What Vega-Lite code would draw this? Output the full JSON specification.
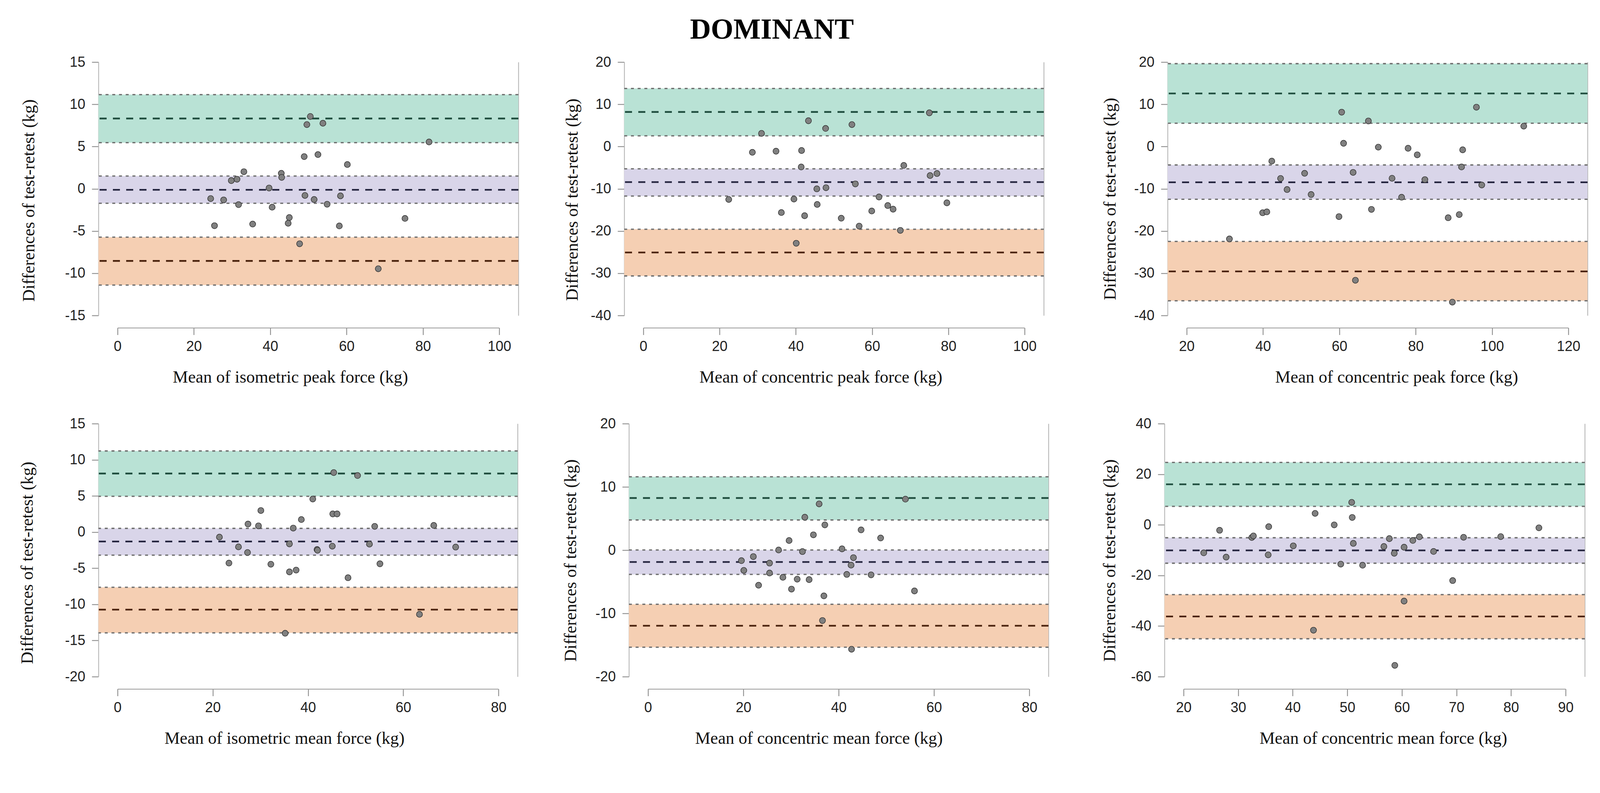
{
  "$schema": "https://vega.github.io/schema/vega-lite/v6.json",
  "padding": {"left": 48, "top": 40, "right": 0, "bottom": 0},
  "background": "white",
  "title": {"text": "DOMINANT", "font": "Liberation Serif", "fontSize": 74, "fontWeight": "bold", "color": "#000000", "anchor": "middle", "dx": -81, "offset": 26},
  "datasets": {
    "bands": [
      {"p": 1, "band": "upper", "lo": 5.46, "mid": 8.32, "hi": 11.15},
      {"p": 1, "band": "bias", "lo": -1.72, "mid": -0.12, "hi": 1.51},
      {"p": 1, "band": "lower", "lo": -11.4, "mid": -8.54, "hi": -5.73},
      {"p": 2, "band": "upper", "lo": 2.53, "mid": 8.19, "hi": 13.75},
      {"p": 2, "band": "bias", "lo": -11.73, "mid": -8.42, "hi": -5.27},
      {"p": 2, "band": "lower", "lo": -30.64, "mid": -25.09, "hi": -19.58},
      {"p": 3, "band": "upper", "lo": 5.52, "mid": 12.57, "hi": 19.63},
      {"p": 3, "band": "bias", "lo": -12.48, "mid": -8.47, "hi": -4.36},
      {"p": 3, "band": "lower", "lo": -36.52, "mid": -29.57, "hi": -22.47},
      {"p": 4, "band": "upper", "lo": 4.95, "mid": 8.1, "hi": 11.22},
      {"p": 4, "band": "bias", "lo": -3.2, "mid": -1.3, "hi": 0.51},
      {"p": 4, "band": "lower", "lo": -13.94, "mid": -10.73, "hi": -7.64},
      {"p": 5, "band": "upper", "lo": 4.77, "mid": 8.24, "hi": 11.6},
      {"p": 5, "band": "bias", "lo": -3.84, "mid": -1.87, "hi": 0.02},
      {"p": 5, "band": "lower", "lo": -15.35, "mid": -11.95, "hi": -8.56},
      {"p": 6, "band": "upper", "lo": 7.29, "mid": 16.02, "hi": 24.67},
      {"p": 6, "band": "bias", "lo": -15.17, "mid": -10.09, "hi": -5.1},
      {"p": 6, "band": "lower", "lo": -45.03, "mid": -36.2, "hi": -27.56}
    ],
    "points": [
      {"p":1,"x":50.5,"y":8.56},{"p":1,"x":49.6,"y":7.6},{"p":1,"x":53.8,"y":7.76},{"p":1,"x":81.6,"y":5.54},{"p":1,"x":48.9,"y":3.81},{"p":1,"x":52.5,"y":4.05},{"p":1,"x":60.2,"y":2.87},{"p":1,"x":33.1,"y":2.02},{"p":1,"x":29.8,"y":0.97},{"p":1,"x":31.3,"y":1.13},{"p":1,"x":42.9,"y":1.83},{"p":1,"x":43.0,"y":1.35},{"p":1,"x":39.7,"y":0.09},{"p":1,"x":24.4,"y":-1.16},{"p":1,"x":27.8,"y":-1.32},{"p":1,"x":31.7,"y":-1.88},{"p":1,"x":40.5,"y":-2.18},{"p":1,"x":49.1,"y":-0.79},{"p":1,"x":51.5,"y":-1.27},{"p":1,"x":58.4,"y":-0.84},{"p":1,"x":54.9,"y":-1.83},{"p":1,"x":25.4,"y":-4.37},{"p":1,"x":35.4,"y":-4.18},{"p":1,"x":45.0,"y":-3.41},{"p":1,"x":44.7,"y":-4.08},{"p":1,"x":58.1,"y":-4.4},{"p":1,"x":75.3,"y":-3.51},{"p":1,"x":47.7,"y":-6.51},{"p":1,"x":68.3,"y":-9.47},
      {"p":2,"x":75.0,"y":7.98},{"p":2,"x":43.3,"y":6.11},{"p":2,"x":47.8,"y":4.29},{"p":2,"x":54.7,"y":5.2},{"p":2,"x":31.0,"y":3.12},{"p":2,"x":28.6,"y":-1.37},{"p":2,"x":34.8,"y":-1.1},{"p":2,"x":41.5,"y":-0.94},{"p":2,"x":41.4,"y":-4.84},{"p":2,"x":68.3,"y":-4.47},{"p":2,"x":75.2,"y":-6.87},{"p":2,"x":77.0,"y":-6.39},{"p":2,"x":55.6,"y":-8.85},{"p":2,"x":45.5,"y":-10.02},{"p":2,"x":47.9,"y":-9.75},{"p":2,"x":22.4,"y":-12.53},{"p":2,"x":39.5,"y":-12.43},{"p":2,"x":61.8,"y":-11.94},{"p":2,"x":79.6,"y":-13.33},{"p":2,"x":45.6,"y":-13.71},{"p":2,"x":36.2,"y":-15.63},{"p":2,"x":42.3,"y":-16.38},{"p":2,"x":51.9,"y":-16.97},{"p":2,"x":59.9,"y":-15.26},{"p":2,"x":64.1,"y":-13.97},{"p":2,"x":65.5,"y":-14.83},{"p":2,"x":56.6,"y":-18.84},{"p":2,"x":67.4,"y":-19.85},{"p":2,"x":40.1,"y":-22.9},
      {"p":3,"x":60.6,"y":8.14},{"p":3,"x":95.9,"y":9.32},{"p":3,"x":67.6,"y":6.06},{"p":3,"x":108.3,"y":4.83},{"p":3,"x":61.1,"y":0.77},{"p":3,"x":70.2,"y":-0.14},{"p":3,"x":78.0,"y":-0.41},{"p":3,"x":92.3,"y":-0.78},{"p":3,"x":80.4,"y":-1.96},{"p":3,"x":42.3,"y":-3.45},{"p":3,"x":92.0,"y":-4.84},{"p":3,"x":50.9,"y":-6.34},{"p":3,"x":63.6,"y":-6.12},{"p":3,"x":44.6,"y":-7.56},{"p":3,"x":73.8,"y":-7.51},{"p":3,"x":82.4,"y":-7.83},{"p":3,"x":97.3,"y":-9.11},{"p":3,"x":46.3,"y":-10.18},{"p":3,"x":52.6,"y":-11.36},{"p":3,"x":76.3,"y":-12.0},{"p":3,"x":39.9,"y":-15.68},{"p":3,"x":41.0,"y":-15.47},{"p":3,"x":68.4,"y":-14.88},{"p":3,"x":59.9,"y":-16.59},{"p":3,"x":88.5,"y":-16.86},{"p":3,"x":91.4,"y":-16.11},{"p":3,"x":31.2,"y":-21.88},{"p":3,"x":64.2,"y":-31.66},{"p":3,"x":89.6,"y":-36.84},
      {"p":4,"x":45.4,"y":8.23},{"p":4,"x":50.4,"y":7.82},{"p":4,"x":41.0,"y":4.57},{"p":4,"x":30.1,"y":2.98},{"p":4,"x":45.2,"y":2.51},{"p":4,"x":46.1,"y":2.51},{"p":4,"x":38.6,"y":1.73},{"p":4,"x":27.4,"y":1.11},{"p":4,"x":29.6,"y":0.86},{"p":4,"x":36.9,"y":0.55},{"p":4,"x":54.0,"y":0.79},{"p":4,"x":66.4,"y":0.92},{"p":4,"x":21.4,"y":-0.7},{"p":4,"x":25.4,"y":-2.05},{"p":4,"x":27.3,"y":-2.83},{"p":4,"x":36.1,"y":-1.64},{"p":4,"x":41.9,"y":-2.42},{"p":4,"x":42.0,"y":-2.52},{"p":4,"x":45.1,"y":-1.95},{"p":4,"x":52.9,"y":-1.67},{"p":4,"x":71.0,"y":-2.08},{"p":4,"x":23.4,"y":-4.29},{"p":4,"x":32.2,"y":-4.45},{"p":4,"x":36.1,"y":-5.51},{"p":4,"x":37.5,"y":-5.26},{"p":4,"x":55.1,"y":-4.39},{"p":4,"x":48.4,"y":-6.32},{"p":4,"x":63.4,"y":-11.38},{"p":4,"x":35.2,"y":-14.0},
      {"p":5,"x":54.0,"y":8.06},{"p":5,"x":35.9,"y":7.31},{"p":5,"x":32.9,"y":5.2},{"p":5,"x":37.1,"y":3.99},{"p":5,"x":44.7,"y":3.2},{"p":5,"x":34.7,"y":2.42},{"p":5,"x":48.8,"y":1.92},{"p":5,"x":29.6,"y":1.52},{"p":5,"x":27.4,"y":0.02},{"p":5,"x":32.4,"y":-0.23},{"p":5,"x":40.7,"y":0.2},{"p":5,"x":22.1,"y":-1.02},{"p":5,"x":19.6,"y":-1.66},{"p":5,"x":43.1,"y":-1.19},{"p":5,"x":25.5,"y":-2.05},{"p":5,"x":42.6,"y":-2.37},{"p":5,"x":20.1,"y":-3.2},{"p":5,"x":25.5,"y":-3.62},{"p":5,"x":41.7,"y":-3.84},{"p":5,"x":46.8,"y":-3.91},{"p":5,"x":28.3,"y":-4.3},{"p":5,"x":31.3,"y":-4.59},{"p":5,"x":33.8,"y":-4.66},{"p":5,"x":23.2,"y":-5.55},{"p":5,"x":30.1,"y":-6.16},{"p":5,"x":36.9,"y":-7.23},{"p":5,"x":55.9,"y":-6.45},{"p":5,"x":36.6,"y":-11.13},{"p":5,"x":42.7,"y":-15.67},
      {"p":6,"x":50.8,"y":8.89},{"p":6,"x":44.1,"y":4.53},{"p":6,"x":50.9,"y":2.92},{"p":6,"x":47.6,"y":-0.02},{"p":6,"x":35.6,"y":-0.73},{"p":6,"x":26.6,"y":-2.16},{"p":6,"x":85.1,"y":-1.18},{"p":6,"x":32.5,"y":-5.01},{"p":6,"x":32.8,"y":-4.38},{"p":6,"x":57.7,"y":-5.45},{"p":6,"x":63.2,"y":-4.74},{"p":6,"x":71.3,"y":-4.92},{"p":6,"x":78.1,"y":-4.65},{"p":6,"x":62.0,"y":-6.17},{"p":6,"x":40.1,"y":-8.31},{"p":6,"x":51.1,"y":-7.33},{"p":6,"x":56.7,"y":-8.57},{"p":6,"x":60.4,"y":-8.84},{"p":6,"x":23.7,"y":-11.07},{"p":6,"x":35.5,"y":-11.87},{"p":6,"x":58.6,"y":-11.25},{"p":6,"x":65.8,"y":-10.53},{"p":6,"x":27.8,"y":-12.76},{"p":6,"x":48.8,"y":-15.53},{"p":6,"x":52.8,"y":-15.97},{"p":6,"x":69.3,"y":-22.03},{"p":6,"x":60.4,"y":-30.14},{"p":6,"x":43.8,"y":-41.64},{"p":6,"x":58.7,"y":-55.54}
    ]
  },
  "vconcat": [
    {
      "spacing": 145,
      "hconcat": [
        {
          "spacing": 113,
          "hconcat": [
            {
              "width": 1075, "height": 649,
              "resolve": {"axis": {"y": "independent"}},
              "layer": [
                {"data": {"name": "bands"}, "transform": [{"filter": "datum.p == 1"}], "mark": {"type": "rect"},
                 "encoding": {
                   "y": {"field": "lo", "type": "quantitative", "scale": {"domain": [-15, 15], "nice": false, "zero": false},
                         "axis": {"values": [-15, -10, -5, 0, 5, 10, 15], "labelExpr": "toString(datum.value)", "title": "Differences of test-retest (kg)", "titleX": -156, "titleY": 354, "minExtent": 95, "maxExtent": 95}},
                   "y2": {"field": "hi"},
                   "fill": {"field": "band", "type": "nominal", "scale": {"domain": ["upper", "bias", "lower"], "range": ["#b9e2d5", "#d9d5e9", "#f5cfb3"]}, "legend": null}}},
                {"data": {"name": "bands"}, "transform": [{"filter": "datum.p == 1"}], "mark": {"type": "rule", "strokeDash": [7.6, 9.6], "strokeWidth": 3.3, "color": "#6e6e6e"},
                 "encoding": {"y": {"field": "lo", "type": "quantitative", "scale": {"domain": [-15, 15], "nice": false, "zero": false}, "axis": null}}},
                {"data": {"name": "bands"}, "transform": [{"filter": "datum.p == 1"}], "mark": {"type": "rule", "strokeDash": [7.6, 9.6], "strokeWidth": 3.3, "color": "#6e6e6e"},
                 "encoding": {"y": {"field": "hi", "type": "quantitative", "scale": {"domain": [-15, 15], "nice": false, "zero": false}, "axis": null}}},
                {"data": {"name": "bands"}, "transform": [{"filter": "datum.p == 1"}], "mark": {"type": "rule", "strokeDash": [18, 16], "strokeWidth": 4.3},
                 "encoding": {"y": {"field": "mid", "type": "quantitative", "scale": {"domain": [-15, 15], "nice": false, "zero": false}, "axis": null},
                   "stroke": {"field": "band", "type": "nominal", "scale": {"domain": ["upper", "bias", "lower"], "range": ["#1f4d3e", "#25253f", "#4a220d"]}, "legend": null}}},
                {"data": {"name": "points"}, "transform": [{"filter": "datum.p == 1"}], "mark": {"type": "circle", "fill": "#808080", "stroke": "#2e2e2e", "strokeWidth": 1.4, "size": 237, "opacity": 1},
                 "encoding": {
                   "x": {"field": "x", "type": "quantitative", "scale": {"domain": [-5, 105], "nice": false, "zero": false},
                         "axis": {"values": [0, 20, 40, 60, 80, 100], "title": "Mean of isometric peak force (kg)", "titleX": 491, "domainDash": [0, 48.9, 977, 3000]}},
                   "y": {"field": "y", "type": "quantitative", "scale": {"domain": [-15, 15], "nice": false, "zero": false},
                         "axis": {"orient": "right", "labels": false, "ticks": false, "title": null, "minExtent": 0, "maxExtent": 0}}}}
              ]
            },
            {
              "width": 1074, "height": 649,
              "resolve": {"axis": {"y": "independent"}},
              "layer": [
                {"data": {"name": "bands"}, "transform": [{"filter": "datum.p == 2"}], "mark": {"type": "rect"},
                 "encoding": {
                   "y": {"field": "lo", "type": "quantitative", "scale": {"domain": [-40, 20], "nice": false, "zero": false},
                         "axis": {"values": [-40, -30, -20, -10, 0, 10, 20], "labelExpr": "toString(datum.value)", "title": "Differences of test-retest (kg)", "titleX": -111, "titleY": 352, "minExtent": 95, "maxExtent": 95}},
                   "y2": {"field": "hi"},
                   "fill": {"field": "band", "type": "nominal", "scale": {"domain": ["upper", "bias", "lower"], "range": ["#b9e2d5", "#d9d5e9", "#f5cfb3"]}, "legend": null}}},
                {"data": {"name": "bands"}, "transform": [{"filter": "datum.p == 2"}], "mark": {"type": "rule", "strokeDash": [7.6, 9.6], "strokeWidth": 3.3, "color": "#6e6e6e"},
                 "encoding": {"y": {"field": "lo", "type": "quantitative", "scale": {"domain": [-40, 20], "nice": false, "zero": false}, "axis": null}}},
                {"data": {"name": "bands"}, "transform": [{"filter": "datum.p == 2"}], "mark": {"type": "rule", "strokeDash": [7.6, 9.6], "strokeWidth": 3.3, "color": "#6e6e6e"},
                 "encoding": {"y": {"field": "hi", "type": "quantitative", "scale": {"domain": [-40, 20], "nice": false, "zero": false}, "axis": null}}},
                {"data": {"name": "bands"}, "transform": [{"filter": "datum.p == 2"}], "mark": {"type": "rule", "strokeDash": [18, 16], "strokeWidth": 4.3},
                 "encoding": {"y": {"field": "mid", "type": "quantitative", "scale": {"domain": [-40, 20], "nice": false, "zero": false}, "axis": null},
                   "stroke": {"field": "band", "type": "nominal", "scale": {"domain": ["upper", "bias", "lower"], "range": ["#1f4d3e", "#25253f", "#4a220d"]}, "legend": null}}},
                {"data": {"name": "points"}, "transform": [{"filter": "datum.p == 2"}], "mark": {"type": "circle", "fill": "#808080", "stroke": "#2e2e2e", "strokeWidth": 1.4, "size": 237, "opacity": 1},
                 "encoding": {
                   "x": {"field": "x", "type": "quantitative", "scale": {"domain": [-5, 105], "nice": false, "zero": false},
                         "axis": {"values": [0, 20, 40, 60, 80, 100], "title": "Mean of concentric peak force (kg)", "titleX": 503, "domainDash": [0, 48.8, 976, 3000]}},
                   "y": {"field": "y", "type": "quantitative", "scale": {"domain": [-40, 20], "nice": false, "zero": false},
                         "axis": {"orient": "right", "labels": false, "ticks": false, "title": null, "minExtent": 0, "maxExtent": 0}}}}
              ]
            }
          ]
        },
        {
          "width": 1075, "height": 649,
          "resolve": {"axis": {"y": "independent"}},
          "layer": [
            {"data": {"name": "bands"}, "transform": [{"filter": "datum.p == 3"}], "mark": {"type": "rect"},
             "encoding": {
               "y": {"field": "lo", "type": "quantitative", "scale": {"domain": [-40, 20], "nice": false, "zero": false},
                     "axis": {"values": [-40, -30, -20, -10, 0, 10, 20], "labelExpr": "toString(datum.value)", "title": "Differences of test-retest (kg)", "titleX": -125, "titleY": 350, "minExtent": 95, "maxExtent": 95}},
               "y2": {"field": "hi"},
               "fill": {"field": "band", "type": "nominal", "scale": {"domain": ["upper", "bias", "lower"], "range": ["#b9e2d5", "#d9d5e9", "#f5cfb3"]}, "legend": null}}},
            {"data": {"name": "bands"}, "transform": [{"filter": "datum.p == 3"}], "mark": {"type": "rule", "strokeDash": [7.6, 9.6], "strokeWidth": 3.3, "color": "#6e6e6e"},
             "encoding": {"y": {"field": "lo", "type": "quantitative", "scale": {"domain": [-40, 20], "nice": false, "zero": false}, "axis": null}}},
            {"data": {"name": "bands"}, "transform": [{"filter": "datum.p == 3"}], "mark": {"type": "rule", "strokeDash": [7.6, 9.6], "strokeWidth": 3.3, "color": "#6e6e6e"},
             "encoding": {"y": {"field": "hi", "type": "quantitative", "scale": {"domain": [-40, 20], "nice": false, "zero": false}, "axis": null}}},
            {"data": {"name": "bands"}, "transform": [{"filter": "datum.p == 3"}], "mark": {"type": "rule", "strokeDash": [18, 16], "strokeWidth": 4.3},
             "encoding": {"y": {"field": "mid", "type": "quantitative", "scale": {"domain": [-40, 20], "nice": false, "zero": false}, "axis": null},
               "stroke": {"field": "band", "type": "nominal", "scale": {"domain": ["upper", "bias", "lower"], "range": ["#1f4d3e", "#25253f", "#4a220d"]}, "legend": null}}},
            {"data": {"name": "points"}, "transform": [{"filter": "datum.p == 3"}], "mark": {"type": "circle", "fill": "#808080", "stroke": "#2e2e2e", "strokeWidth": 1.4, "size": 237, "opacity": 1},
             "encoding": {
               "x": {"field": "x", "type": "quantitative", "scale": {"domain": [15, 125], "nice": false, "zero": false},
                     "axis": {"values": [20, 40, 60, 80, 100, 120], "title": "Mean of concentric peak force (kg)", "titleX": 586, "domainDash": [0, 48.9, 977, 3000]}},
               "y": {"field": "y", "type": "quantitative", "scale": {"domain": [-40, 20], "nice": false, "zero": false},
                     "axis": {"orient": "right", "labels": false, "ticks": false, "title": null, "minExtent": 0, "maxExtent": 0}}}}
          ]
        }
      ]
    },
    {
      "spacing": 132,
      "hconcat": [
        {
          "spacing": 111,
          "hconcat": [
            {
              "width": 1073, "height": 648,
              "resolve": {"axis": {"y": "independent"}},
              "layer": [
                {"data": {"name": "bands"}, "transform": [{"filter": "datum.p == 4"}], "mark": {"type": "rect"},
                 "encoding": {
                   "y": {"field": "lo", "type": "quantitative", "scale": {"domain": [-20, 15], "nice": false, "zero": false},
                         "axis": {"values": [-20, -15, -10, -5, 0, 5, 10, 15], "labelExpr": "toString(datum.value)", "title": "Differences of test-retest (kg)", "titleX": -160, "titleY": 356, "minExtent": 95, "maxExtent": 95}},
                   "y2": {"field": "hi"},
                   "fill": {"field": "band", "type": "nominal", "scale": {"domain": ["upper", "bias", "lower"], "range": ["#b9e2d5", "#d9d5e9", "#f5cfb3"]}, "legend": null}}},
                {"data": {"name": "bands"}, "transform": [{"filter": "datum.p == 4"}], "mark": {"type": "rule", "strokeDash": [7.6, 9.6], "strokeWidth": 3.3, "color": "#6e6e6e"},
                 "encoding": {"y": {"field": "lo", "type": "quantitative", "scale": {"domain": [-20, 15], "nice": false, "zero": false}, "axis": null}}},
                {"data": {"name": "bands"}, "transform": [{"filter": "datum.p == 4"}], "mark": {"type": "rule", "strokeDash": [7.6, 9.6], "strokeWidth": 3.3, "color": "#6e6e6e"},
                 "encoding": {"y": {"field": "hi", "type": "quantitative", "scale": {"domain": [-20, 15], "nice": false, "zero": false}, "axis": null}}},
                {"data": {"name": "bands"}, "transform": [{"filter": "datum.p == 4"}], "mark": {"type": "rule", "strokeDash": [18, 16], "strokeWidth": 4.3},
                 "encoding": {"y": {"field": "mid", "type": "quantitative", "scale": {"domain": [-20, 15], "nice": false, "zero": false}, "axis": null},
                   "stroke": {"field": "band", "type": "nominal", "scale": {"domain": ["upper", "bias", "lower"], "range": ["#1f4d3e", "#25253f", "#4a220d"]}, "legend": null}}},
                {"data": {"name": "points"}, "transform": [{"filter": "datum.p == 4"}], "mark": {"type": "circle", "fill": "#808080", "stroke": "#2e2e2e", "strokeWidth": 1.4, "size": 237, "opacity": 1},
                 "encoding": {
                   "x": {"field": "x", "type": "quantitative", "scale": {"domain": [-4, 84], "nice": false, "zero": false},
                         "axis": {"values": [0, 20, 40, 60, 80], "title": "Mean of isometric mean force (kg)", "titleX": 476, "domainDash": [0, 48.8, 975, 3000]}},
                   "y": {"field": "y", "type": "quantitative", "scale": {"domain": [-20, 15], "nice": false, "zero": false},
                         "axis": {"orient": "right", "labels": false, "ticks": false, "title": null, "minExtent": 0, "maxExtent": 0}}}}
              ]
            },
            {
              "width": 1074, "height": 648,
              "resolve": {"axis": {"y": "independent"}},
              "layer": [
                {"data": {"name": "bands"}, "transform": [{"filter": "datum.p == 5"}], "mark": {"type": "rect"},
                 "encoding": {
                   "y": {"field": "lo", "type": "quantitative", "scale": {"domain": [-20, 20], "nice": false, "zero": false},
                         "axis": {"values": [-20, -10, 0, 10, 20], "labelExpr": "toString(datum.value)", "title": "Differences of test-retest (kg)", "titleX": -127, "titleY": 350, "minExtent": 95, "maxExtent": 95}},
                   "y2": {"field": "hi"},
                   "fill": {"field": "band", "type": "nominal", "scale": {"domain": ["upper", "bias", "lower"], "range": ["#b9e2d5", "#d9d5e9", "#f5cfb3"]}, "legend": null}}},
                {"data": {"name": "bands"}, "transform": [{"filter": "datum.p == 5"}], "mark": {"type": "rule", "strokeDash": [7.6, 9.6], "strokeWidth": 3.3, "color": "#6e6e6e"},
                 "encoding": {"y": {"field": "lo", "type": "quantitative", "scale": {"domain": [-20, 20], "nice": false, "zero": false}, "axis": null}}},
                {"data": {"name": "bands"}, "transform": [{"filter": "datum.p == 5"}], "mark": {"type": "rule", "strokeDash": [7.6, 9.6], "strokeWidth": 3.3, "color": "#6e6e6e"},
                 "encoding": {"y": {"field": "hi", "type": "quantitative", "scale": {"domain": [-20, 20], "nice": false, "zero": false}, "axis": null}}},
                {"data": {"name": "bands"}, "transform": [{"filter": "datum.p == 5"}], "mark": {"type": "rule", "strokeDash": [18, 16], "strokeWidth": 4.3},
                 "encoding": {"y": {"field": "mid", "type": "quantitative", "scale": {"domain": [-20, 20], "nice": false, "zero": false}, "axis": null},
                   "stroke": {"field": "band", "type": "nominal", "scale": {"domain": ["upper", "bias", "lower"], "range": ["#1f4d3e", "#25253f", "#4a220d"]}, "legend": null}}},
                {"data": {"name": "points"}, "transform": [{"filter": "datum.p == 5"}], "mark": {"type": "circle", "fill": "#808080", "stroke": "#2e2e2e", "strokeWidth": 1.4, "size": 237, "opacity": 1},
                 "encoding": {
                   "x": {"field": "x", "type": "quantitative", "scale": {"domain": [-4, 84], "nice": false, "zero": false},
                         "axis": {"values": [0, 20, 40, 60, 80], "title": "Mean of concentric mean force (kg)", "titleX": 486, "domainDash": [0, 48.8, 976, 3000]}},
                   "y": {"field": "y", "type": "quantitative", "scale": {"domain": [-20, 20], "nice": false, "zero": false},
                         "axis": {"orient": "right", "labels": false, "ticks": false, "title": null, "minExtent": 0, "maxExtent": 0}}}}
              ]
            }
          ]
        },
        {
          "width": 1076, "height": 648,
          "resolve": {"axis": {"y": "independent"}},
          "layer": [
            {"data": {"name": "bands"}, "transform": [{"filter": "datum.p == 6"}], "mark": {"type": "rect"},
             "encoding": {
               "y": {"field": "lo", "type": "quantitative", "scale": {"domain": [-60, 40], "nice": false, "zero": false},
                     "axis": {"values": [-60, -40, -20, 0, 20, 40], "labelExpr": "toString(datum.value)", "title": "Differences of test-retest (kg)", "titleX": -118, "titleY": 350, "minExtent": 95, "maxExtent": 95}},
               "y2": {"field": "hi"},
               "fill": {"field": "band", "type": "nominal", "scale": {"domain": ["upper", "bias", "lower"], "range": ["#b9e2d5", "#d9d5e9", "#f5cfb3"]}, "legend": null}}},
            {"data": {"name": "bands"}, "transform": [{"filter": "datum.p == 6"}], "mark": {"type": "rule", "strokeDash": [7.6, 9.6], "strokeWidth": 3.3, "color": "#6e6e6e"},
             "encoding": {"y": {"field": "lo", "type": "quantitative", "scale": {"domain": [-60, 40], "nice": false, "zero": false}, "axis": null}}},
            {"data": {"name": "bands"}, "transform": [{"filter": "datum.p == 6"}], "mark": {"type": "rule", "strokeDash": [7.6, 9.6], "strokeWidth": 3.3, "color": "#6e6e6e"},
             "encoding": {"y": {"field": "hi", "type": "quantitative", "scale": {"domain": [-60, 40], "nice": false, "zero": false}, "axis": null}}},
            {"data": {"name": "bands"}, "transform": [{"filter": "datum.p == 6"}], "mark": {"type": "rule", "strokeDash": [18, 16], "strokeWidth": 4.3},
             "encoding": {"y": {"field": "mid", "type": "quantitative", "scale": {"domain": [-60, 40], "nice": false, "zero": false}, "axis": null},
               "stroke": {"field": "band", "type": "nominal", "scale": {"domain": ["upper", "bias", "lower"], "range": ["#1f4d3e", "#25253f", "#4a220d"]}, "legend": null}}},
            {"data": {"name": "points"}, "transform": [{"filter": "datum.p == 6"}], "mark": {"type": "circle", "fill": "#808080", "stroke": "#2e2e2e", "strokeWidth": 1.4, "size": 237, "opacity": 1},
             "encoding": {
               "x": {"field": "x", "type": "quantitative", "scale": {"domain": [16.5, 93.5], "nice": false, "zero": false},
                     "axis": {"values": [20, 30, 40, 50, 60, 70, 80, 90], "title": "Mean of concentric mean force (kg)", "titleX": 560, "domainDash": [0, 48.9, 978, 3000]}},
               "y": {"field": "y", "type": "quantitative", "scale": {"domain": [-60, 40], "nice": false, "zero": false},
                     "axis": {"orient": "right", "labels": false, "ticks": false, "title": null, "minExtent": 0, "maxExtent": 0}}}}
          ]
        }
      ]
    }
  ],
  "spacing": 78,
  "config": {
    "view": {"stroke": null},
    "axis": {"labelFont": "Liberation Sans", "labelFontSize": 36, "labelColor": "#222222", "titleFont": "Liberation Serif", "titleFontSize": 44, "titleFontWeight": "normal", "titleColor": "#111111", "tickColor": "#808080", "tickWidth": 2, "domainColor": "#b0b0b0", "domainWidth": 2, "grid": false},
    "axisY": {"tickSize": 17, "labelPadding": 17},
    "axisX": {"tickSize": 18, "labelPadding": 13, "titlePadding": 39, "offset": 31.5, "domainColor": "#9a9a9a"}
  }
}
